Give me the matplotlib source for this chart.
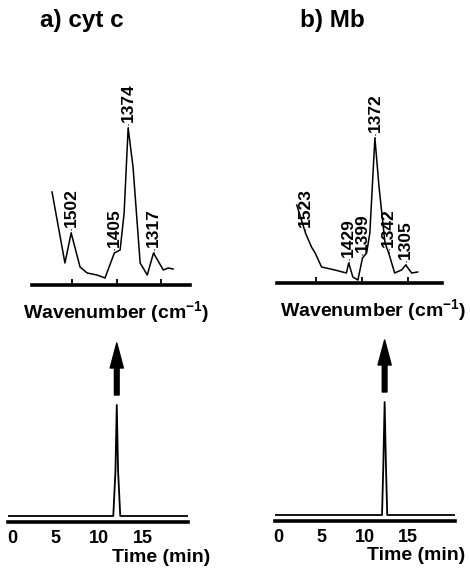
import numpy as np
import matplotlib
matplotlib.use("Agg")
import matplotlib.pyplot as plt

plt.rcParams["font.family"] = ["Liberation Sans", "DejaVu Sans"]
plt.rcParams["font.weight"] = "bold"
plt.rcParams["mathtext.fontset"] = "custom"
plt.rcParams["mathtext.rm"] = "Liberation Sans:bold"
plt.rcParams["mathtext.default"] = "rm"

# Raman spectra (wavenumber in cm-1, intensity in arbitrary units)
cytc_wn = [1545, 1516, 1502, 1482, 1466, 1444, 1426, 1405, 1392, 1383, 1374,
           1363, 1347, 1331, 1317, 1295, 1284, 1273]
cytc_int = [93, 22, 52, 18, 12, 10, 7, 32, 35, 72, 157, 118, 22, 10, 32, 15, 17, 16]
cytc_peaks = [1502, 1405, 1374, 1317]

mb_wn = [1542, 1523, 1510, 1502, 1488, 1459, 1434, 1429, 1420, 1409, 1399, 1390,
         1383, 1372, 1363, 1350, 1342, 1329, 1314, 1305, 1292, 1279]
mb_int = [78, 50, 36, 30, 16, 13, 10, 20, 6, 3, 25, 30, 50, 145, 96, 40, 30, 10,
          13, 18, 10, 11]
mb_peaks = [1523, 1429, 1399, 1372, 1342, 1305]

wn_ticks = [1500, 1400, 1300]

# chromatograms (time in min)
cytc_time = [-0.4, 4.0, 11.6, 11.85, 12.0, 12.15, 12.4, 20.1]
cytc_sig = [0, 0, 0, 45, 111, 45, 0, 0]
mb_time = [-0.3, 12.0, 12.15, 12.3, 12.45, 12.6, 20.4]
mb_sig = [0, 0, 50, 113, 50, 0, 0]
time_ticks = [0, 5, 10, 15]

W, H = 470, 568


def rect(x0, x1, ybase, height):
    # pixel box -> figure fraction
    return [x0 / W, (H - ybase) / H, (x1 - x0) / W, height / H]


def spectrum(ax, wn, inten, peaks, xlim):
    ax.plot(wn, inten, color="black", lw=1.1)
    ax.set_xlim(*xlim)
    ax.set_ylim(0, 200)
    for s in ["top", "left", "right"]:
        ax.spines[s].set_visible(False)
    ax.spines["bottom"].set_linewidth(2.6)
    ax.set_yticks([])
    ax.set_xticks(wn_ticks)
    ax.tick_params(axis="x", direction="in", length=4, width=1.3, labelbottom=False)
    for p in peaks:
        h = inten[wn.index(p)]
        ax.annotate(str(p), xy=(p, h), xytext=(0, 4), textcoords="offset points",
                    rotation=90, ha="center", va="bottom", fontsize=12.5,
                    fontweight="bold")
        ax.plot([p, p], [h, h + 5], color="black", lw=0.8, ls=":")


def chrom(ax, t, sig, xlim):
    ax.plot(t, sig, color="black", lw=1.3)
    ax.set_xlim(*xlim)
    ax.set_ylim(-6, 194)
    for s in ["top", "left", "right"]:
        ax.spines[s].set_visible(False)
    ax.spines["bottom"].set_linewidth(2.6)
    ax.set_yticks([])
    ax.set_xticks(time_ticks)
    ax.tick_params(axis="x", length=0, pad=6, labelsize=13)
    for lab in ax.get_xticklabels():
        lab.set_fontweight("bold")
    top = max(sig)
    tpk = t[sig.index(top)]
    ax.annotate("", xy=(tpk, top + 62), xytext=(tpk, top + 10),
                arrowprops=dict(arrowstyle="simple,head_length=1.8,head_width=0.95,tail_width=0.34",
                                mutation_scale=10, color="black", shrinkA=0, shrinkB=0))


fig = plt.figure(figsize=(4.7, 5.68), dpi=100)

ax1 = fig.add_axes(rect(32, 190, 285, 200))
spectrum(ax1, cytc_wn, cytc_int, cytc_peaks, (1590, 1235))
ax2 = fig.add_axes(rect(277, 442, 283, 200))
spectrum(ax2, mb_wn, mb_int, mb_peaks, (1585, 1226))

ax3 = fig.add_axes(rect(8, 188, 522, 200))
chrom(ax3, cytc_time, cytc_sig, (-0.46, 20.16))
ax4 = fig.add_axes(rect(275, 455, 521, 200))
chrom(ax4, mb_time, mb_sig, (-0.35, 20.42))

fig.text(40 / W, 1 - 20 / H, "a) cyt c", fontsize=17.5, fontweight="bold", va="center")
fig.text(300 / W, 1 - 20 / H, "b) Mb", fontsize=17.5, fontweight="bold", va="center")
fig.text(116 / W, 1 - 312 / H, r"Wavenumber (cm$^{-1}$)", fontsize=14,
         fontweight="bold", ha="center", va="center")
fig.text(373 / W, 1 - 310 / H, r"Wavenumber (cm$^{-1}$)", fontsize=14,
         fontweight="bold", ha="center", va="center")
fig.text(161 / W, 1 - 557 / H, "Time (min)", fontsize=14, fontweight="bold",
         ha="center", va="center")
fig.text(416 / W, 1 - 555 / H, "Time (min)", fontsize=14, fontweight="bold",
         ha="center", va="center")

fig.savefig("out.png", dpi=100, facecolor="white")
